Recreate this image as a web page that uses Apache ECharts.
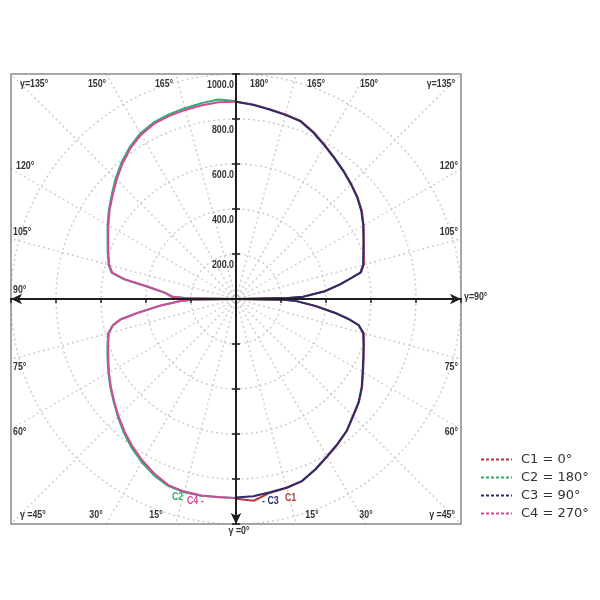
<!DOCTYPE html>
<html>
<head>
<meta charset="utf-8">
<script src="https://cdn.jsdelivr.net/npm/echarts@6/dist/echarts.min.js"></script>
<style>html,body{margin:0;padding:0;background:#fff}#c{width:600px;height:600px}</style>
</head>
<body>
<div id="c"></div>
<script>
// gamma angles (deg), 0 = down, 180 = up
const gamma = [0,5,10,15,20,25,30,35,40,45,50,55,60,65,70,75,78,80,82,85,88,89,90,91,92,95,98,100,102,105,110,115,120,125,130,135,140,145,150,155,160,165,170,175,180];
// C1 = 0° (right half)
const c1 = [888,900,874,870,861,836,810,788,766,737,713,684,652,626,605,588,558,507,447,355,270,212,0,232,298,395,466,514,568,588,605,627,655,683,705,724,744,765,790,818,842,849,857,868,877];
// C2 = 180° (left half)
const c2 = [884,884,888,889,884,864,838,808,776,742,710,682,655,630,608,588,560,522,442,338,248,192,0,228,288,318,400,505,566,586,607,630,659,690,721,757,792,824,850,866,873,878,884,890,880];
// C3 = 90° (right half)
const c3 = [882,880,872,868,860,835,808,786,765,735,712,682,650,624,603,585,556,505,445,352,268,215,0,235,300,398,468,512,565,585,602,625,653,680,703,722,742,763,787,815,840,847,855,866,877];
// C4 = 270° (left half)
const c4 = [885,883,887,886,880,857,830,801,770,738,707,679,652,626,605,585,558,518,440,335,245,190,0,220,280,315,398,502,562,583,604,627,655,686,716,750,785,818,843,860,866,870,874,878,877];

const seriesNames = ['C1 = 0°', 'C2 = 180°', 'C3 = 90°', 'C4 = 270°'];
const seriesSide = ['right', 'left', 'right', 'left'];
const seriesColors = ['#b4383e', '#2fae6b', '#2b2d6b', '#d04a9c'];
const seriesValues = [c1, c2, c3, c4];

// intensity tick labels on the vertical axis
const radiusTicks = [200, 400, 600, 800, 1000];

// angle tick labels along the frame
const angleLabels = [
  {t:'γ=135°', x:20, y:84, a:'left'}, {t:'150°', x:97, y:84, a:'center'}, {t:'165°', x:164, y:84, a:'center'},
  {t:'180°', x:250, y:84, a:'left'}, {t:'165°', x:316, y:84, a:'center'}, {t:'150°', x:369, y:84, a:'center'},
  {t:'γ=135°', x:455, y:84, a:'right'},
  {t:'120°', x:16, y:166, a:'left'}, {t:'105°', x:13, y:232, a:'left'}, {t:'90°', x:13, y:290, a:'left'},
  {t:'75°', x:13, y:367, a:'left'}, {t:'60°', x:13, y:432, a:'left'},
  {t:'120°', x:458, y:166, a:'right'}, {t:'105°', x:458, y:232, a:'right'},
  {t:'75°', x:458, y:367, a:'right'}, {t:'60°', x:458, y:432, a:'right'},
  {t:'γ =45°', x:20, y:515, a:'left'}, {t:'30°', x:96, y:515, a:'center'}, {t:'15°', x:156, y:515, a:'center'},
  {t:'15°', x:312, y:515, a:'center'}, {t:'30°', x:366, y:515, a:'center'}, {t:'γ =45°', x:455, y:515, a:'right'},
  {t:'γ=90°', x:464, y:297, a:'left'}, {t:'γ =0°', x:239, y:531, a:'center'}
];
const curveTags = [
  {t:'C2', x:172, y:497, c:1}, {t:'C4 -', x:187, y:501, c:3}, {t:'- C3', x:262, y:501, c:2}, {t:'C1', x:285, y:498, c:0}
];

const sans = '"Liberation Sans", Arial, sans-serif';
const gridLine = {type:[2,3], color:'#cacaca', width:1.4};
const axisCol = '#1e1e1e';

const series = seriesValues.map((vals, i) => ({
  name: seriesNames[i],
  type: 'line',
  coordinateSystem: 'polar',
  polarIndex: 0,
  symbol: 'none',
  smooth: false,
  z: 3,
  lineStyle: {color: seriesColors[i], width: 2},
  itemStyle: {color: seriesColors[i]},
  data: gamma.map((g, k) => [vals[k], seriesSide[i] === 'right' ? g : 360 - g])
}));

const mkX = (ticksInside, showSym) => ({
  type:'value', min:-1000, max:1000, interval:200, z:60,
  axisLine:{show:true, onZero:true, symbol: showSym ? ['arrow','arrow'] : ['none','none'], symbolSize:[8,11], lineStyle:{color:axisCol, width:2}},
  axisTick:{show:true, inside:ticksInside, length:4, lineStyle:{color:axisCol, width:1.5}},
  axisLabel:{show:false}, splitLine:{show:false}
});
const mkY = (ticksInside, main) => ({
  type:'value', min:-1000, max:1000, interval:200, z:60, position:'left',
  axisLine:{show:true, onZero:true, symbol: main ? ['arrow','none'] : ['none','none'], symbolSize:[8,11], lineStyle:{color:axisCol, width:2}},
  axisTick:{show:true, inside:ticksInside, length:4, lineStyle:{color:axisCol, width:1.5}},
  axisLabel:{show:false},
  splitLine:{show:false}
});

const option = {
  animation:false,
  backgroundColor:'#fff',
  grid:{left:11, top:74, width:450, height:450, show:true, borderColor:'#8a8a8a', borderWidth:1.5,
        backgroundColor:'transparent', z:60, containLabel:false, outerBoundsMode:'none'},
  xAxis:[mkX(false, true), mkX(true, false)],
  yAxis:[mkY(false, true), mkY(true, false)],
  polar:[{center:[236,299], radius:225}, {center:[236,299], radius:320}],
  angleAxis:[
    {polarIndex:0, type:'value', min:0, max:360, startAngle:270, clockwise:false,
     axisLine:{show:false}, axisTick:{show:false}, axisLabel:{show:false}, splitLine:{show:false}},
    {polarIndex:1, type:'value', min:0, max:360, interval:15, startAngle:270, clockwise:false,
     axisLine:{show:false}, axisTick:{show:false}, axisLabel:{show:false}, splitLine:{show:true, lineStyle:gridLine}}
  ],
  radiusAxis:[
    {polarIndex:0, type:'value', min:0, max:1000, interval:200,
     axisLine:{show:false}, axisTick:{show:false}, axisLabel:{show:false}, splitLine:{show:true, lineStyle:gridLine}},
    {polarIndex:1, type:'value', min:0, max:1,
     axisLine:{show:false}, axisTick:{show:false}, axisLabel:{show:false}, splitLine:{show:false}}
  ],
  legend:{
    orient:'vertical', left:475, top:448, z:60,
    itemWidth:31, itemHeight:10, itemGap:5,
    data: seriesNames,
    itemStyle:{opacity:0},
    lineStyle:{type:[3,2], width:2},
    textStyle:{fontSize:13, fontFamily:'"DejaVu Sans", Verdana, sans-serif', color:'#333', padding:[0,0,0,4]}
  },
  series: series
};

const chart = echarts.init(document.getElementById('c'), null, {renderer:'canvas'});
chart.setOption(option);

// graphics: masks + texts (vertical-axis labels placed through the axis scale)
const graphics = [];
[[0,0,600,74],[0,524,600,76],[0,0,11,600],[461,0,139,600]].forEach(r => {
  graphics.push({type:'rect', shape:{x:r[0], y:r[1], width:r[2], height:r[3]}, style:{fill:'#fff'}, z:50, silent:true});
});
function addText(t, x, y, align, color) {
  graphics.push({
    type:'text', x:x, y:y, z:70, scaleX:0.8,
    style:{text:t, fill:color, font:'bold 11px ' + sans, textAlign:align, textVerticalAlign:'middle'}
  });
}
angleLabels.forEach(l => addText(l.t, l.x, l.y, l.a, '#333'));
curveTags.forEach(l => addText(l.t, l.x, l.y, 'left', seriesColors[l.c]));
const axisX = chart.convertToPixel({xAxisIndex:0}, 0);
radiusTicks.forEach(v => {
  const py = chart.convertToPixel({yAxisIndex:0}, v);
  addText(v.toFixed(1), axisX - 2, py + 11, 'right', '#333');
});
chart.setOption({graphic:{elements:graphics}});
</script>
</body>
</html>
